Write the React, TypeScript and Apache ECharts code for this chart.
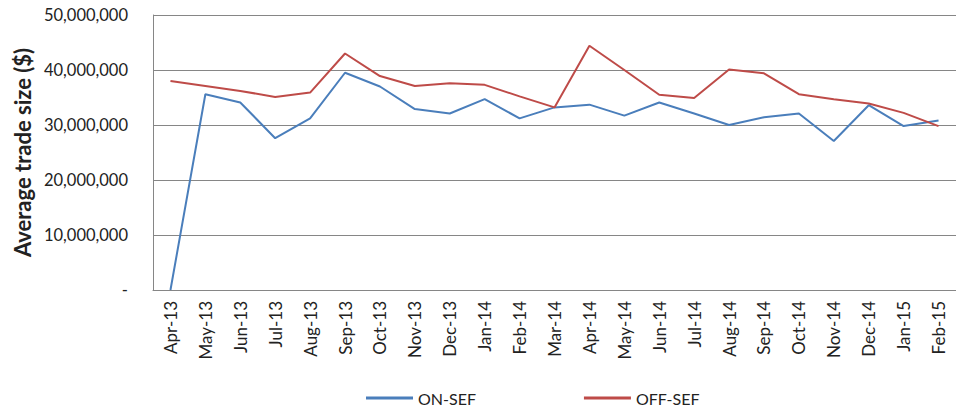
import React, { useEffect, useRef } from "react";
import * as echarts from "echarts";

const categories = [
  "Apr-13", "May-13", "Jun-13", "Jul-13", "Aug-13", "Sep-13", "Oct-13", "Nov-13",
  "Dec-13", "Jan-14", "Feb-14", "Mar-14", "Apr-14", "May-14", "Jun-14", "Jul-14",
  "Aug-14", "Sep-14", "Oct-14", "Nov-14", "Dec-14", "Jan-15", "Feb-15",
];

const onSef = [
  0, 35600000, 34100000, 27600000, 31200000, 39500000, 37000000, 32900000,
  32100000, 34700000, 31200000, 33200000, 33700000, 31700000, 34100000, 32100000,
  30000000, 31400000, 32100000, 27100000, 33600000, 29800000, 30800000,
];

const offSef = [
  38000000, 37100000, 36200000, 35100000, 35900000, 43000000, 38900000, 37100000,
  37600000, 37300000, 35200000, 33200000, 44400000, 40000000, 35500000, 34900000,
  40100000, 39400000, 35600000, 34700000, 33900000, 32200000, 29800000,
];

const seriesNames = ["ON-SEF", "OFF-SEF"];
const yTitle = "Average trade size ($)";

const FONT = "Lato, 'Open Sans', sans-serif";

export default function App() {
  const ref = useRef<HTMLDivElement>(null);
  useEffect(() => {
    if (!ref.current) return;
    const chart = echarts.init(ref.current, undefined, { renderer: "svg" });
    chart.setOption({
      animation: false,
      backgroundColor: "#ffffff",
      grid: { left: 153, top: 15, right: -9, bottom: 117, containLabel: false },
      legend: {
        data: seriesNames,
        left: 361,
        top: 385,
        icon: "rect",
        itemWidth: 47,
        itemHeight: 3,
        itemGap: 108,
        textStyle: {
          fontFamily: FONT,
          fontSize: 16,
          color: "#222",
        },
      },
      xAxis: {
        type: "category",
        data: categories,
        boundaryGap: true,
        axisLine: { show: true, lineStyle: { color: "#868686", width: 1 } },
        axisTick: { show: false },
        axisLabel: {
          rotate: 90,
          margin: 11,
          fontSize: 17,
          fontFamily: FONT,
          color: "#222",
          interval: 0,
        },
      },
      yAxis: {
        type: "value",
        min: 0,
        max: 50000000,
        interval: 10000000,
        name: yTitle,
        nameLocation: "middle",
        nameRotate: 90,
        nameGap: 120,
        nameTextStyle: { fontFamily: FONT, fontSize: 22, fontWeight: "bold", color: "#222" },
        axisLine: { show: true, lineStyle: { color: "#868686", width: 1 } },
        axisTick: { show: false },
        splitLine: { show: true, lineStyle: { color: "#868686", width: 1 } },
        axisLabel: {
          margin: 25,
          fontSize: 16.5,
          fontFamily: FONT,
          color: "#222",
          formatter: (v: number) => (v === 0 ? "-" : v.toLocaleString("en-US")),
        },
      },
      series: [
        {
          name: seriesNames[0],
          type: "line",
          data: onSef,
          symbol: "none",
          lineStyle: { color: "#4A7EBB", width: 2 },
          itemStyle: { color: "#4A7EBB" },
        },
        {
          name: seriesNames[1],
          type: "line",
          data: offSef,
          symbol: "none",
          lineStyle: { color: "#BE4B48", width: 2 },
          itemStyle: { color: "#BE4B48" },
        },
      ],
    });
    return () => chart.dispose();
  }, []);
  return (
    <div
      ref={ref}
      style={{ position: "absolute", left: 0, top: 0, width: 956, height: 407 }}
    />
  );
}
